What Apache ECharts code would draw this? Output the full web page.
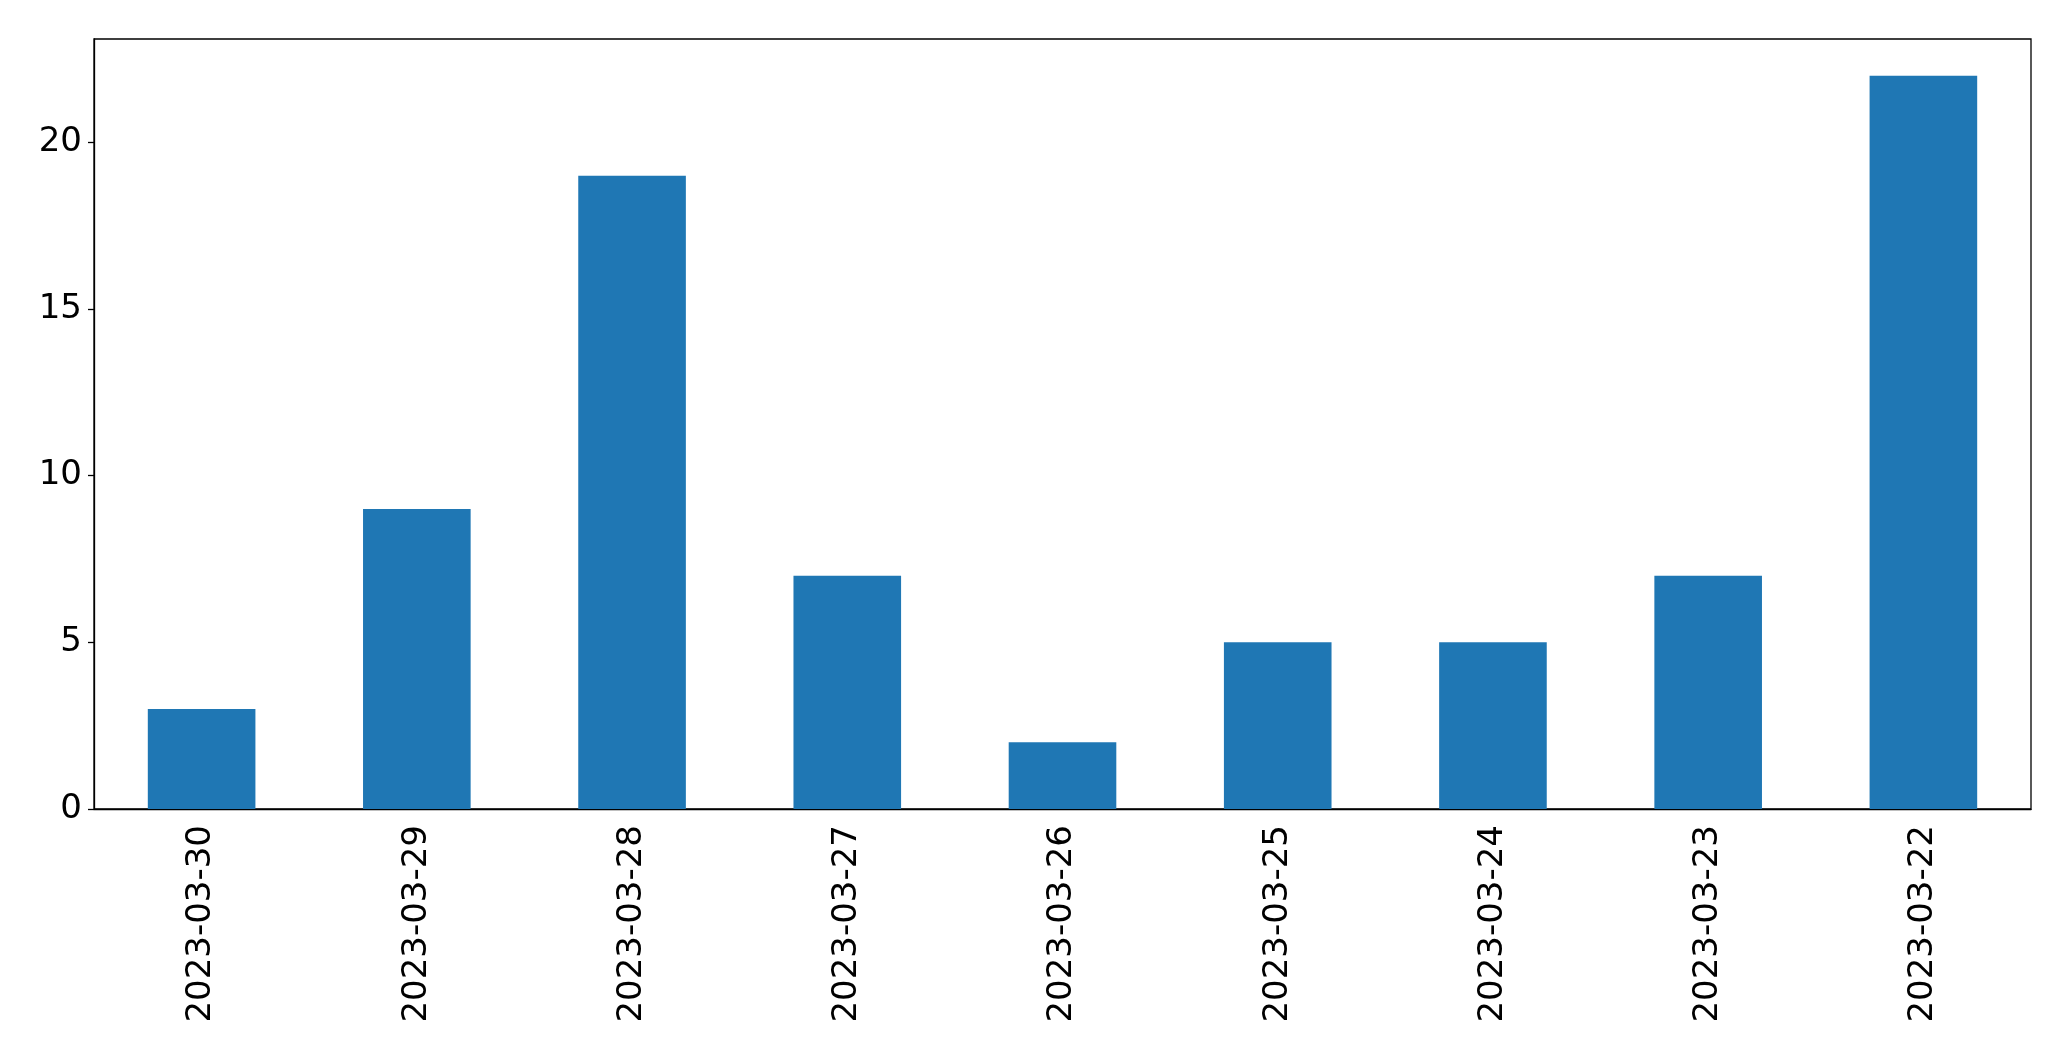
<!DOCTYPE html>
<html>
<head>
<meta charset="utf-8">
<script src="https://cdn.jsdelivr.net/npm/echarts@6/dist/echarts.min.js"></script>
<style>html,body{margin:0;padding:0;background:#fff;}#c{width:2071px;height:1061px;}</style>
</head>
<body>
<div id="c"></div>
<script>
const categories = ["2023-03-30","2023-03-29","2023-03-28","2023-03-27","2023-03-26","2023-03-25","2023-03-24","2023-03-23","2023-03-22"];
const counts = [3, 9, 19, 7, 2, 5, 5, 7, 22];
const yTicks = [0, 5, 10, 15, 20];

const chart = echarts.init(document.getElementById('c'), null, {renderer: 'canvas'});
chart.setOption({
  animation: false,
  backgroundColor: '#ffffff',
  grid: {left: 94, right: 40, top: 39, bottom: 252, show: true, borderColor: '#000', borderWidth: 1.3, backgroundColor: 'transparent'},
  xAxis: {
    type: 'category',
    data: categories,
    axisLine: {lineStyle: {color: '#000', width: 1.3}},
    axisTick: {alignWithLabel: true, length: 6, lineStyle: {color: '#000', width: 1.3}},
    axisLabel: {rotate: 90, fontSize: 34, color: '#000', fontFamily: 'DejaVu Sans', margin: 16}
  },
  yAxis: {
    type: 'value',
    min: 0, max: 23.1, interval: 5,
    splitLine: {show: false},
    axisLine: {show: true, lineStyle: {color: '#000', width: 1.3}},
    axisTick: {show: true, length: 6, lineStyle: {color: '#000', width: 1.3}},
    axisLabel: {fontSize: 34, color: '#000', fontFamily: 'DejaVu Sans', margin: 12, showMaxLabel: false,
      formatter: v => yTicks.includes(v) ? String(v) : ''}
  },
  series: [{
    type: 'bar',
    data: counts,
    barWidth: '50%',
    itemStyle: {color: '#1f77b4'}
  }]
});
</script>
</body>
</html>
